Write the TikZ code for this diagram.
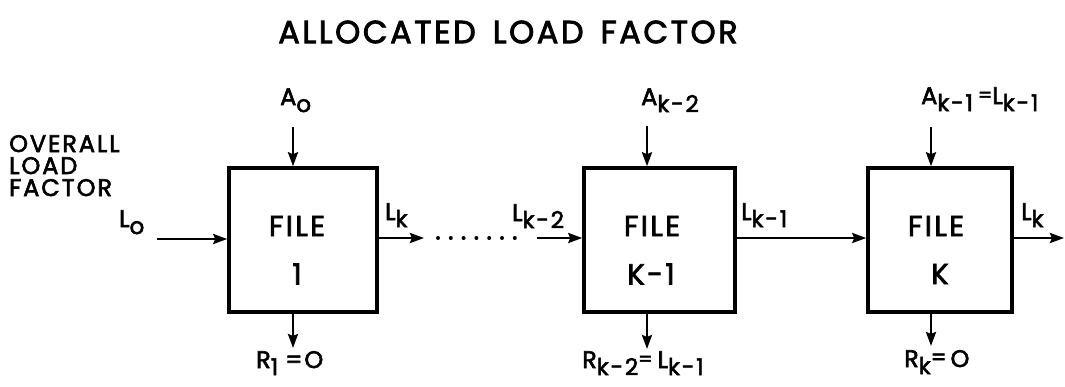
\documentclass[tikz,border=0pt]{standalone}
\usepackage{fontspec}
\setmainfont{Poppins}[FakeBold=2.5,LetterSpace=8]
\usetikzlibrary{arrows.meta}
\newcommand\fsz[1]{\fontsize{#1}{#1}\selectfont}
\newcommand\lowsb[1]{\raisebox{-7pt}{\fsz{23}#1}}
\begin{document}
\begin{tikzpicture}[x=1pt,y=-1pt,
  filebox/.style={draw,line width=3.5pt,minimum height=144pt,inner sep=0pt},
  flow/.style={line width=2.6pt,-{Stealth[length=14pt,width=10pt,inset=2pt]}},
  boxtxt/.style={inner sep=0pt,font=\fsz{29}},
  lbl/.style={inner sep=0pt,anchor=base west,font=\fsz{24}},
  olfs/.style={inner sep=0pt,anchor=base west,font=\fsz{24}},
  dotline/.style={line width=4pt,line cap=round,dash pattern=on 0pt off 12.8pt}]
\useasboundingbox (0,0) rectangle (1065,386);
% title
\node[inner sep=0pt,font=\fsz{32}] (title) at (508,32) {ALLOCATED\hspace{17pt}LOAD\hspace{17pt}FACTOR};
% overall load factor
\node[olfs] (olf1) at (9,152) {OVERALL};
\node[olfs] (olf2) at (9,174) {LOAD};
\node[olfs] (olf3) at (9,196) {FACTOR};
% boxes
\node[filebox,minimum width=148pt] (b1) at (303,240) {};
\node[filebox,minimum width=151pt] (b2) at (659.5,240) {};
\node[filebox,minimum width=144pt] (b3) at (940,240) {};
% box texts
\node[boxtxt] (f1) at (297,226) {FILE};
\node[boxtxt] (n1) at (297,274) {1};
\node[boxtxt] (f2) at (652,226) {FILE};
\node[boxtxt] (n2) at (651,274) {K-1};
\node[boxtxt] (f3) at (936,226) {FILE};
\node[boxtxt] (n3) at (940,274) {K};
% top inputs
\node[lbl] (a0) at (280,105) {A\lowsb{o}};
\node[lbl] (a1) at (641,105) {A\lowsb{k-2}};
\node[lbl] (a2) at (921,104) {A\lowsb{k-1}\hspace{5pt}\raisebox{2pt}{\fsz{20}=}L\lowsb{k-1}};
\coordinate (t1) at (293,127);
\coordinate (t2) at (647,126);
\coordinate (t3) at (931,127);
\draw[flow] (t1) -- (t1 |- b1.north);
\draw[flow] (t2) -- (t2 |- b2.north);
\draw[flow] (t3) -- (t3 |- b3.north);
% bottom outputs
\coordinate (u1) at (293,348);
\coordinate (u2) at (647,349);
\coordinate (u3) at (931,346);
\draw[flow] (u1 |- b1.south) -- (u1);
\draw[flow] (u2 |- b2.south) -- (u2);
\draw[flow] (u3 |- b3.south) -- (u3);
\node[lbl] (r1) at (256,368) {R\lowsb{1}\hspace{7pt}=O};
\node[lbl] (r2) at (582,368) {R\lowsb{k-2}\raisebox{2pt}{\fsz{20}=}\hspace{5pt}L\lowsb{k-1}};
\node[lbl] (r3) at (904,367) {R\lowsb{k}\raisebox{2pt}{\fsz{22}=}\hspace{4pt}O};
% horizontal flow
\node[lbl] (l0) at (119,227) {L\lowsb{o}};
\coordinate (in0) at (157,239);
\draw[flow] (in0) -- (in0 -| b1.west);
\coordinate (o1) at (424,238);
\draw[flow] (o1 -| b1.east) -- (o1);
\node[lbl] (lk1) at (385,220) {L\lowsb{k}};
\coordinate (d1) at (438,238);
\coordinate (d2) at (527,238);
\draw[dotline] (d1) -- (d2);
\coordinate (i2) at (537,238);
\draw[flow] (i2) -- (i2 -| b2.west);
\node[lbl] (lk2) at (512,221) {L\lowsb{k-2}};
\draw[flow] (b2.east |- 0,238) -- (b3.west |- 0,238);
\node[lbl] (lk3) at (741,220) {L\lowsb{k-1}};
\coordinate (o3) at (1064,238);
\draw[flow] (o3 -| b3.east) -- (o3);
\node[lbl] (lk4) at (1021,220) {L\lowsb{k}};
\end{tikzpicture}
\end{document}
